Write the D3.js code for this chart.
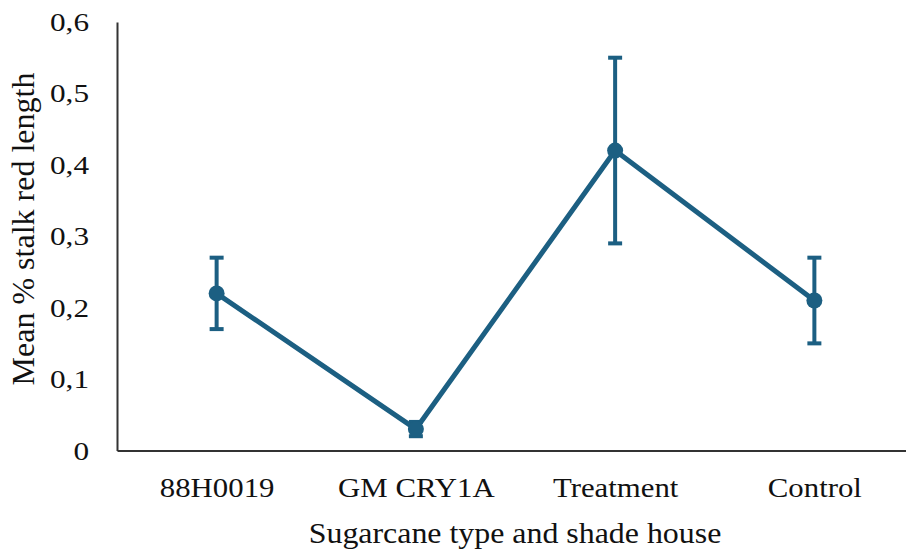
<!DOCTYPE html>
<html>
<head>
<meta charset="utf-8">
<script src="https://cdn.jsdelivr.net/npm/d3@7/dist/d3.min.js"></script>
<style>
  html, body { margin: 0; padding: 0; background: #fff; }
  svg { display: block; }
</style>
</head>
<body>
<svg id="chart" width="906" height="551"></svg>
<script>
// Mean % stalk red length per sugarcane type / shade house, with error bars
const categories = ["88H0019", "GM CRY1A", "Treatment", "Control"];
const means      = [0.22, 0.03, 0.42, 0.21];
const upper      = [0.27, 0.04, 0.55, 0.27];
const lower      = [0.17, 0.02, 0.29, 0.15];
const yTicks     = [0, 0.1, 0.2, 0.3, 0.4, 0.5, 0.6];
const yTickLabels = ["0", "0,1", "0,2", "0,3", "0,4", "0,5", "0,6"];

const data = categories.map((c, i) => ({ cat: c, mean: means[i], hi: upper[i], lo: lower[i] }));

const FONT = '"Liberation Serif"';
const svg = d3.select("#chart");
const plotLeft = 117, plotRight = 914, plotTop = 22, plotBottom = 450.5;
const color = "#1c5f82";

const x = d3.scalePoint().domain(categories).range([plotLeft, plotRight]).padding(0.5);
const y = d3.scaleLinear().domain([0, 0.6]).range([plotBottom, plotTop]);

// y axis (line + labels, no tick marks); labels set a little wide
const yScaleX = 1.25;
const yAxis = svg.append("g")
  .attr("transform", `translate(${plotLeft},0)`)
  .call(d3.axisLeft(y).tickValues(yTicks).tickFormat((d, i) => yTickLabels[i])
    .tickSize(0).tickPadding(28 / yScaleX));
yAxis.attr("font-family", null);
yAxis.select(".domain").attr("stroke", "#333").attr("stroke-width", 2);
yAxis.selectAll("text").attr("font-size", 25).attr("fill", "#111")
  .style("font-family", FONT).attr("dy", "0.34em")
  .attr("transform", `scale(${yScaleX},1)`);

// x axis
const xAxis = svg.append("g")
  .attr("transform", `translate(0,${plotBottom})`)
  .call(d3.axisBottom(x).tickSize(0).tickPadding(27));
xAxis.attr("font-family", null);
xAxis.select(".domain").attr("stroke", "#333").attr("stroke-width", 2);
xAxis.selectAll("text").attr("font-size", 28).attr("fill", "#111")
  .style("font-family", FONT).attr("dy", "0.71em")
  .attr("transform", "scale(1.1,1)");

// axis titles
svg.append("text")
  .attr("transform", "translate(515,543) scale(1.1,1)")
  .attr("text-anchor", "middle").attr("font-size", 29).attr("fill", "#111")
  .style("font-family", FONT)
  .text("Sugarcane type and shade house");

svg.append("text")
  .attr("transform", "translate(34,229) rotate(-90)")
  .attr("text-anchor", "middle").attr("font-size", 32).attr("fill", "#111")
  .style("font-family", FONT)
  .text("Mean % stalk red length");

// error bars
const eb = svg.append("g").attr("stroke", color).attr("stroke-width", 4);
data.forEach(d => {
  const cx = x(d.cat);
  eb.append("line").attr("x1", cx).attr("x2", cx).attr("y1", y(d.hi)).attr("y2", y(d.lo));
  eb.append("line").attr("x1", cx - 7).attr("x2", cx + 7).attr("y1", y(d.hi)).attr("y2", y(d.hi));
  eb.append("line").attr("x1", cx - 7).attr("x2", cx + 7).attr("y1", y(d.lo)).attr("y2", y(d.lo));
});

// mean line
svg.append("path")
  .datum(data)
  .attr("fill", "none")
  .attr("stroke", color)
  .attr("stroke-width", 5)
  .attr("stroke-linejoin", "round")
  .attr("d", d3.line().x(d => x(d.cat)).y(d => y(d.mean)));

// markers
svg.append("g").selectAll("circle")
  .data(data)
  .join("circle")
  .attr("cx", d => x(d.cat))
  .attr("cy", d => y(d.mean))
  .attr("r", 8)
  .attr("fill", color);
</script>
</body>
</html>
